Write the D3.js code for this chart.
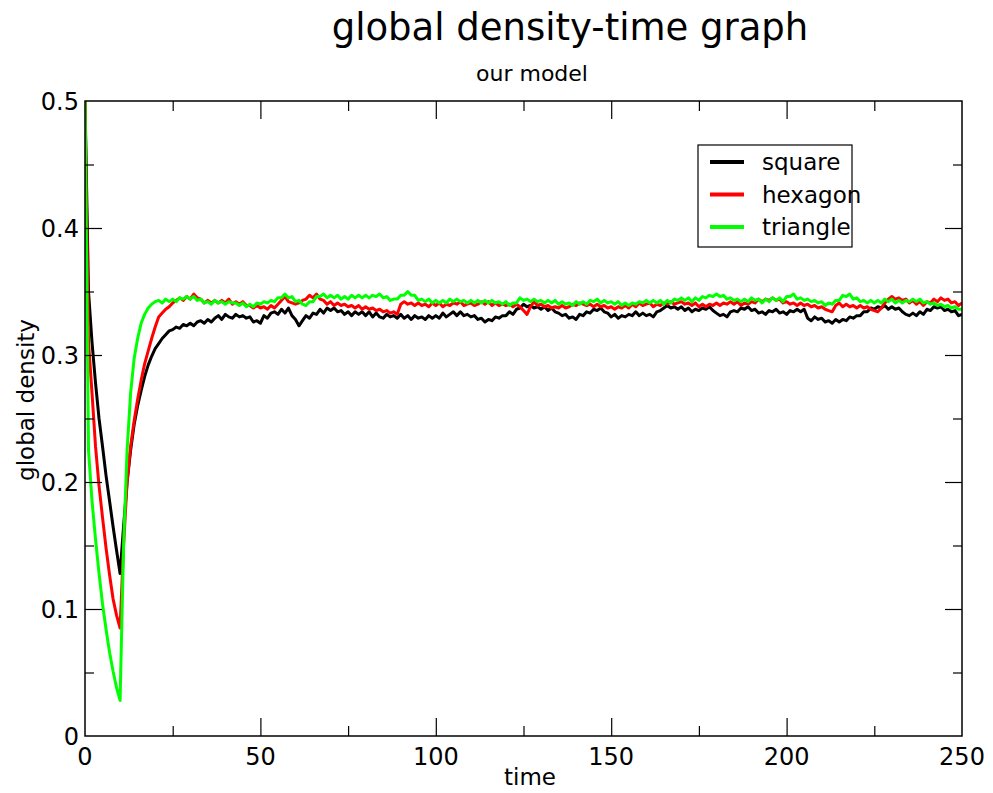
<!DOCTYPE html>
<html><head><meta charset="utf-8">
<script src="https://cdn.jsdelivr.net/npm/d3@7"></script>
<style>body{margin:0;background:#fff}svg{display:block}</style>
</head><body>
<script>
const title = "global density-time graph";
const subtitle = "our model";
const xLabel = "time";
const yLabel = "global density";
const seriesNames = ["square", "hexagon", "triangle"];
const seriesColors = ["#000000", "#ff0000", "#00ff00"];
const xTicks = [0, 50, 100, 150, 200, 250];
const yTicks = [0, 0.1, 0.2, 0.3, 0.4, 0.5];
const yTickLabels = ["0", "0.1", "0.2", "0.3", "0.4", "0.5"];

const square = [
0.500,0.350,0.310,0.278,0.250,0.228,0.205,0.185,0.165,0.146,
0.128,0.165,0.200,0.225,0.245,0.260,0.272,0.283,0.292,0.299,
0.305,0.309,0.313,0.316,0.319,0.320,0.322,0.321,0.324,0.323,
0.325,0.323,0.326,0.327,0.325,0.328,0.326,0.329,0.331,0.328,
0.332,0.330,0.329,0.332,0.330,0.331,0.329,0.330,0.326,0.327,
0.325,0.331,0.329,0.333,0.334,0.332,0.336,0.333,0.337,0.331,
0.328,0.323,0.327,0.331,0.329,0.333,0.332,0.336,0.333,0.337,
0.335,0.337,0.334,0.335,0.332,0.334,0.331,0.334,0.332,0.334,
0.331,0.334,0.330,0.333,0.330,0.329,0.332,0.330,0.331,0.329,
0.332,0.329,0.331,0.328,0.331,0.329,0.330,0.328,0.331,0.329,
0.331,0.329,0.333,0.330,0.332,0.334,0.331,0.334,0.331,0.332,
0.330,0.331,0.328,0.329,0.326,0.328,0.327,0.330,0.329,0.331,
0.331,0.334,0.332,0.336,0.337,0.340,0.338,0.339,0.337,0.338,
0.336,0.338,0.335,0.337,0.334,0.333,0.331,0.332,0.329,0.330,
0.328,0.332,0.331,0.334,0.333,0.336,0.335,0.337,0.334,0.333,
0.330,0.332,0.329,0.331,0.330,0.332,0.331,0.334,0.331,0.333,
0.331,0.332,0.330,0.334,0.335,0.337,0.339,0.337,0.338,0.336,
0.338,0.335,0.337,0.334,0.336,0.335,0.337,0.336,0.338,0.335,
0.333,0.331,0.332,0.330,0.334,0.335,0.334,0.337,0.336,0.338,
0.335,0.336,0.333,0.334,0.332,0.335,0.334,0.336,0.333,0.334,
0.332,0.335,0.334,0.336,0.334,0.336,0.329,0.327,0.330,0.328,
0.329,0.326,0.327,0.325,0.328,0.326,0.328,0.327,0.330,0.329,
0.331,0.331,0.334,0.334,0.337,0.336,0.338,0.337,0.339,0.336,
0.338,0.336,0.337,0.334,0.332,0.331,0.333,0.331,0.334,0.332,
0.336,0.335,0.338,0.337,0.338,0.335,0.336,0.334,0.335,0.331,
0.332];

const hexagon = [
0.500,0.310,0.270,0.228,0.197,0.172,0.148,0.127,0.108,0.095,
0.085,0.150,0.200,0.228,0.248,0.265,0.280,0.293,0.303,0.313,
0.322,0.330,0.333,0.336,0.338,0.341,0.343,0.345,0.343,0.346,
0.344,0.348,0.345,0.344,0.341,0.343,0.341,0.343,0.341,0.343,
0.341,0.344,0.340,0.342,0.340,0.342,0.339,0.339,0.337,0.339,
0.337,0.338,0.336,0.339,0.337,0.340,0.343,0.346,0.342,0.341,
0.340,0.341,0.343,0.344,0.347,0.345,0.348,0.344,0.343,0.340,
0.342,0.339,0.341,0.339,0.340,0.338,0.339,0.337,0.339,0.336,
0.338,0.336,0.337,0.335,0.336,0.334,0.335,0.333,0.334,0.332,
0.340,0.342,0.340,0.341,0.339,0.341,0.339,0.340,0.338,0.341,
0.339,0.341,0.338,0.340,0.339,0.341,0.340,0.342,0.339,0.340,
0.341,0.339,0.340,0.342,0.340,0.342,0.339,0.341,0.339,0.340,
0.339,0.340,0.338,0.340,0.338,0.335,0.332,0.338,0.342,0.339,
0.340,0.338,0.339,0.337,0.338,0.337,0.339,0.337,0.338,0.340,
0.339,0.341,0.340,0.339,0.340,0.338,0.340,0.338,0.339,0.337,
0.338,0.336,0.338,0.337,0.339,0.337,0.340,0.338,0.341,0.339,
0.340,0.341,0.338,0.340,0.339,0.341,0.340,0.342,0.340,0.341,
0.342,0.340,0.341,0.339,0.341,0.338,0.340,0.338,0.340,0.339,
0.341,0.339,0.341,0.340,0.342,0.340,0.342,0.339,0.341,0.340,
0.342,0.341,0.344,0.342,0.344,0.343,0.345,0.343,0.344,0.341,
0.342,0.340,0.341,0.339,0.341,0.339,0.340,0.338,0.339,0.337,
0.338,0.336,0.335,0.334,0.339,0.341,0.338,0.340,0.338,0.339,
0.337,0.339,0.337,0.338,0.336,0.335,0.334,0.337,0.341,0.344,
0.346,0.344,0.345,0.343,0.344,0.341,0.343,0.340,0.342,0.339,
0.342,0.341,0.344,0.342,0.345,0.343,0.344,0.341,0.342,0.339,
0.341];

const triangle = [
0.500,0.225,0.185,0.155,0.128,0.104,0.084,0.066,0.051,0.038,
0.028,0.150,0.225,0.270,0.297,0.313,0.325,0.332,0.337,0.340,
0.342,0.343,0.341,0.344,0.342,0.344,0.342,0.345,0.344,0.346,
0.344,0.346,0.343,0.344,0.341,0.342,0.340,0.343,0.341,0.342,
0.340,0.342,0.341,0.341,0.339,0.341,0.338,0.340,0.338,0.341,
0.340,0.342,0.341,0.343,0.342,0.345,0.345,0.348,0.345,0.346,
0.342,0.343,0.340,0.339,0.342,0.342,0.346,0.346,0.348,0.345,
0.347,0.345,0.347,0.344,0.346,0.344,0.347,0.345,0.347,0.345,
0.347,0.345,0.347,0.346,0.348,0.345,0.346,0.343,0.344,0.344,
0.347,0.347,0.350,0.347,0.347,0.343,0.344,0.342,0.344,0.341,
0.343,0.341,0.343,0.341,0.344,0.342,0.344,0.342,0.343,0.341,
0.343,0.341,0.343,0.341,0.343,0.341,0.343,0.341,0.342,0.340,
0.342,0.339,0.341,0.341,0.345,0.343,0.344,0.342,0.344,0.342,
0.343,0.341,0.343,0.341,0.343,0.340,0.342,0.340,0.341,0.339,
0.342,0.340,0.342,0.340,0.343,0.342,0.344,0.341,0.343,0.341,
0.342,0.340,0.342,0.339,0.341,0.339,0.341,0.340,0.342,0.341,
0.343,0.341,0.343,0.341,0.343,0.340,0.343,0.341,0.344,0.343,
0.345,0.343,0.345,0.342,0.345,0.343,0.346,0.345,0.347,0.346,
0.348,0.346,0.347,0.344,0.345,0.343,0.344,0.342,0.344,0.342,
0.345,0.343,0.344,0.341,0.344,0.342,0.345,0.343,0.345,0.342,
0.346,0.346,0.348,0.344,0.345,0.343,0.344,0.342,0.343,0.341,
0.342,0.339,0.341,0.340,0.343,0.343,0.347,0.346,0.348,0.344,
0.345,0.342,0.343,0.341,0.343,0.341,0.343,0.341,0.344,0.342,
0.344,0.341,0.343,0.341,0.343,0.342,0.344,0.342,0.344,0.341,
0.342,0.340,0.341,0.339,0.340,0.338,0.339,0.337,0.338,0.336,
0.336];

const W = 993, H = 793;
const M = {left: 85, right: 962, top: 101, bottom: 736};
const svg = d3.select("body").append("svg").attr("width", W).attr("height", H)
  .style("font-family", "'DejaVu Sans', sans-serif");

const x = d3.scaleLinear().domain([0, 250]).range([M.left, M.right]);
const y = d3.scaleLinear().domain([0, 0.5]).range([M.bottom, M.top]);

svg.append("defs").append("clipPath").attr("id", "clip")
  .append("rect").attr("x", M.left).attr("y", M.top - 2)
  .attr("width", M.right - M.left).attr("height", M.bottom - M.top + 2);

const series = [square, hexagon, triangle];
const line = d3.line().x((d, i) => x(i)).y(d => y(d));
const g = svg.append("g").attr("clip-path", "url(#clip)");
series.forEach((s, k) => {
  g.append("path").datum(s).attr("d", line).attr("fill", "none")
    .attr("stroke", seriesColors[k]).attr("stroke-width", 3)
    .attr("stroke-linejoin", "round");
});

// Frame
svg.append("rect").attr("x", M.left).attr("y", M.top)
  .attr("width", M.right - M.left).attr("height", M.bottom - M.top)
  .attr("fill", "none").attr("stroke", "#000").attr("stroke-width", 1.5);

// Ticks (inward)
const xMinor = d3.range(25, 250, 50);
const xMajor = xTicks.filter(v => v > 0 && v < 250);
const yMinor = [0.05, 0.15, 0.25, 0.35, 0.45];
const yMajor = yTicks.filter(v => v > 0 && v < 0.5);
function styleAxis(sel) {
  sel.select(".domain").remove();
  sel.selectAll("line").attr("stroke", "#000").attr("stroke-width", 1.2);
}
function addX(vals, len) {
  svg.append("g").attr("transform", `translate(0,${M.bottom})`)
    .call(d3.axisBottom(x).tickValues(vals).tickSize(-len).tickFormat("")).call(styleAxis);
  svg.append("g").attr("transform", `translate(0,${M.top})`)
    .call(d3.axisTop(x).tickValues(vals).tickSize(-len).tickFormat("")).call(styleAxis);
}
function addY(vals, len) {
  svg.append("g").attr("transform", `translate(${M.left},0)`)
    .call(d3.axisLeft(y).tickValues(vals).tickSize(-len).tickFormat("")).call(styleAxis);
  svg.append("g").attr("transform", `translate(${M.right},0)`)
    .call(d3.axisRight(y).tickValues(vals).tickSize(-len).tickFormat("")).call(styleAxis);
}
addX(xMinor, 10); addX(xMajor, 18);
addY(yMinor, 9); addY(yMajor, 17);

// Tick labels
svg.append("g").selectAll("text").data(xTicks).join("text")
  .attr("x", d => x(d)).attr("y", 765).attr("text-anchor", "middle")
  .attr("font-size", 24).text(d => d);
svg.append("g").selectAll("text").data(yTicks).join("text")
  .attr("x", 79).attr("y", d => y(d) + 9).attr("text-anchor", "end")
  .attr("font-size", 24).text((d, i) => yTickLabels[i]);

// Titles
svg.append("text").attr("x", 570).attr("y", 40).attr("text-anchor", "middle")
  .attr("font-size", 37).text(title);
svg.append("text").attr("x", 532).attr("y", 81).attr("text-anchor", "middle")
  .attr("font-size", 22).text(subtitle);
svg.append("text").attr("x", 530).attr("y", 785).attr("text-anchor", "middle")
  .attr("font-size", 23).text(xLabel);
svg.append("text").attr("transform", "translate(34,400) rotate(-90)")
  .attr("text-anchor", "middle").attr("font-size", 23).text(yLabel);

// Legend
const lg = svg.append("g");
lg.append("rect").attr("x", 698).attr("y", 145).attr("width", 154).attr("height", 102)
  .attr("fill", "#fff").attr("stroke", "#000").attr("stroke-width", 1.2);
seriesNames.forEach((n, k) => {
  const yy = 162 + k * 32.5;
  lg.append("line").attr("x1", 710).attr("x2", 744).attr("y1", yy).attr("y2", yy)
    .attr("stroke", seriesColors[k]).attr("stroke-width", 4);
  lg.append("text").attr("x", 762).attr("y", yy + 8).attr("font-size", 23).text(n);
});
</script>
</body></html>
